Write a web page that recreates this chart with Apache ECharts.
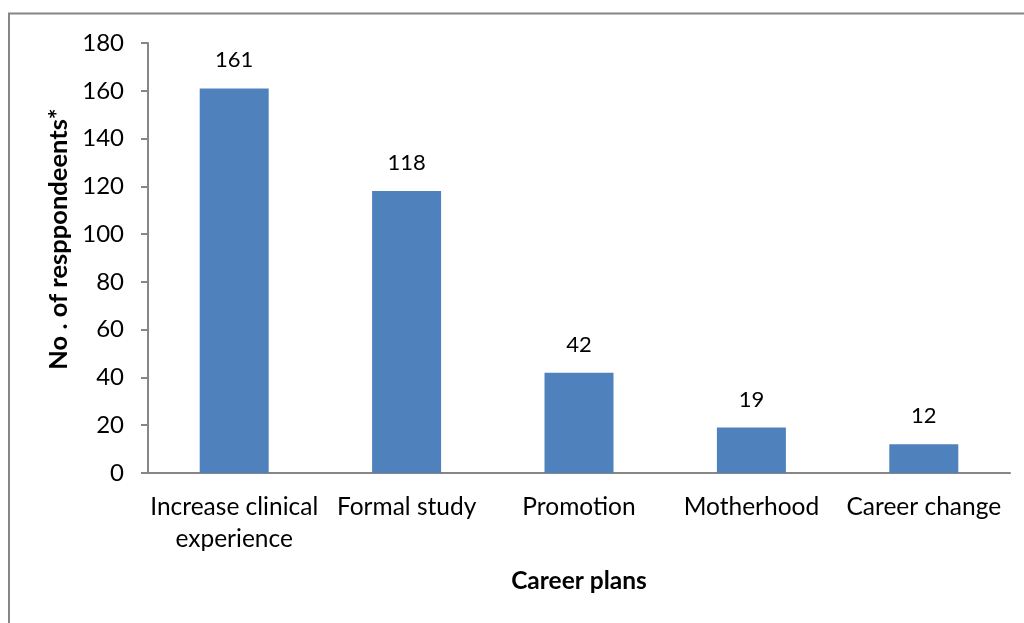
<!DOCTYPE html>
<html>
<head>
<meta charset="utf-8">
<script src="https://cdn.jsdelivr.net/npm/echarts@6/dist/echarts.min.js"></script>
<style>
  html, body { margin: 0; padding: 0; background: #fff; }
  #chart { width: 1024px; height: 623px; }
</style>
</head>
<body>
<div id="chart"></div>
<script>
const categories = ['Increase clinical\nexperience', 'Formal study', 'Promotion', 'Motherhood', 'Career change']
const respondents = [161, 118, 42, 19, 12]
const yTicks = { min: 0, max: 180, interval: 20 }

const font = 'Lato, "Open Sans", sans-serif'
const axisGrey = '#868686'

const chart = echarts.init(document.getElementById('chart'))
chart.setOption({
  animation: false,
  graphic: [
    {
      type: 'polyline',
      shape: { points: [[9, 623], [9, 13.5], [1024, 13.5]] },
      style: { stroke: '#868686', lineWidth: 2, fill: null }
    }
  ],
  grid: {
    left: 148,
    right: 14,
    top: 43,
    bottom: 150
  },
  xAxis: {
    type: 'category',
    data: categories,
    axisLine: { lineStyle: { color: axisGrey, width: 2 } },
    axisTick: { show: false },
    axisLabel: {
      color: '#000',
      fontFamily: font,
      fontSize: 24.5,
      lineHeight: 32,
      margin: 18,
      interval: 0
    },
    name: 'Career plans',
    nameLocation: 'middle',
    nameGap: 96,
    nameTextStyle: {
      color: '#000',
      fontFamily: font,
      fontWeight: 'bold',
      fontSize: 24.5
    }
  },
  yAxis: {
    type: 'value',
    min: yTicks.min,
    max: yTicks.max,
    interval: yTicks.interval,
    splitLine: { show: false },
    axisLine: { show: true, lineStyle: { color: axisGrey, width: 2 } },
    axisTick: { show: true, length: 7, lineStyle: { color: axisGrey, width: 2 } },
    axisLabel: {
      color: '#000',
      fontFamily: font,
      fontSize: 24,
      margin: 24
    },
    name: 'No . of resppondeents*',
    nameLocation: 'middle',
    nameGap: 72,
    nameTextStyle: {
      color: '#000',
      fontFamily: font,
      fontWeight: 'bold',
      fontSize: 25.5,
      padding: [0, 0, 0, 38]
    }
  },
  series: [
    {
      name: 'Respondents',
      type: 'bar',
      data: respondents,
      barWidth: 69,
      itemStyle: { color: '#4F81BD' },
      label: {
        show: true,
        position: 'top',
        distance: 17,
        color: '#000',
        fontFamily: font,
        fontSize: 22
      }
    }
  ]
})
</script>
</body>
</html>
